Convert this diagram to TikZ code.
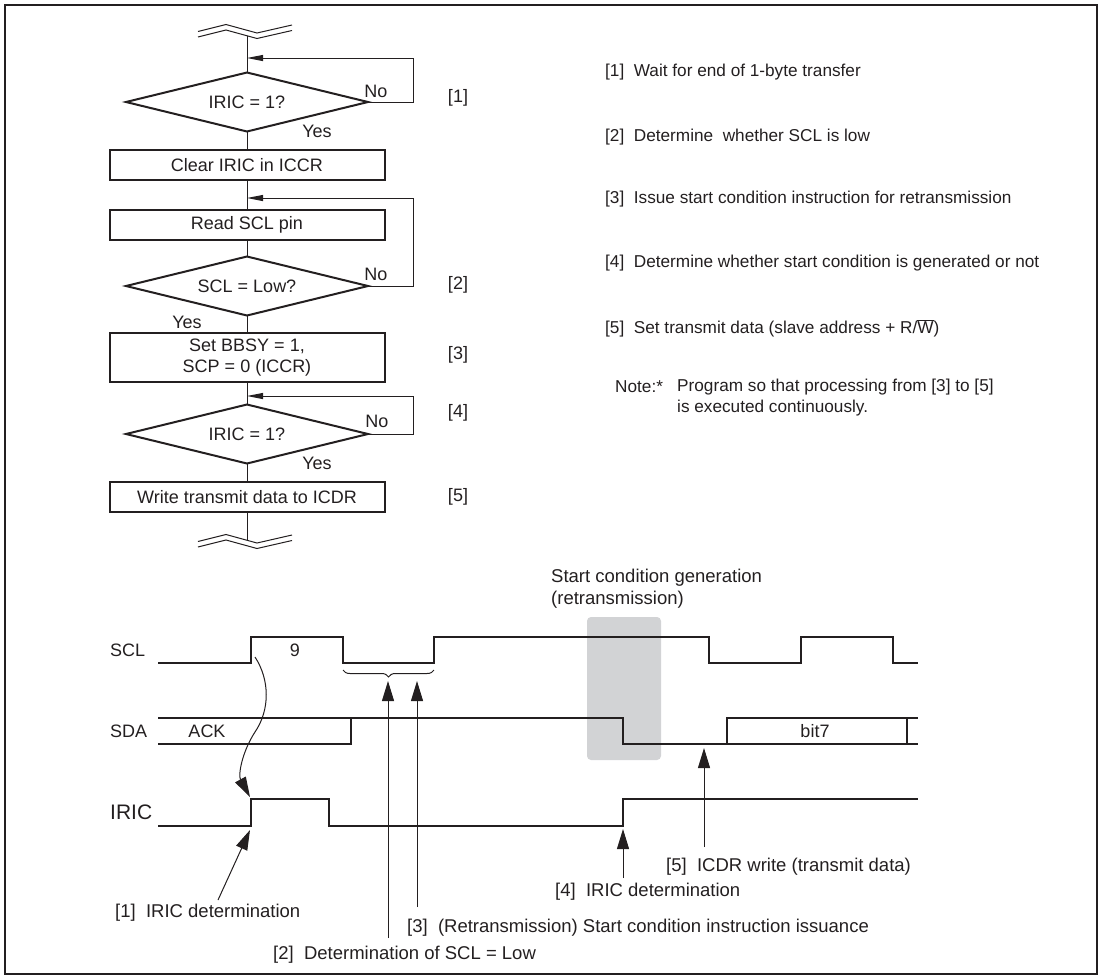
\documentclass[tikz,border=0pt]{standalone}
\usepackage{fontspec}
\setmainfont{Liberation Sans}
\usetikzlibrary{arrows.meta, positioning, shapes.geometric, decorations.pathreplacing, calc}
\definecolor{inkcol}{RGB}{35,31,32}
\definecolor{shadecol}{RGB}{210,211,213}

% broken-line mark of the flow chart
\newcommand{\flowcut}[1]{%
  \draw[line width=1pt, shift={(#1)}] (-49,-1.5) -- (-21,-8.5) -- (10,0) -- (45,-8);
  \draw[line width=1pt, shift={(#1)}] (-49,4) -- (-21,-3) -- (10,5.5) -- (45,-2.5);
}

\begin{document}
\begin{tikzpicture}[x=1pt, y=-1pt, inkcol, font=\fontsize{18}{21}\selectfont,
  decide/.style={draw, diamond, line width=2pt, inner sep=0pt, outer sep=0pt,
                 minimum width=242pt, minimum height=59pt, aspect=4},
  stepbox/.style={draw, rectangle, line width=2pt, inner sep=0pt, outer sep=0pt,
                  minimum width=275pt, minimum height=30pt, align=center},
  flow/.style={line width=1pt},
  back/.style={line width=1pt, -{Triangle[length=16pt,width=6pt]}},
  wave/.style={line width=2pt},
  pointer/.style={line width=1pt, -{Triangle[length=20pt,width=12pt]}},
  txt/.style={inner sep=0pt},
  notetxt/.style={inner sep=0pt, font=\fontsize{17.2}{21}\selectfont},
  chartlbl/.style={inner sep=0pt, font=\fontsize{18.5}{22}\selectfont}]
  \useasboundingbox (0,0) rectangle (1103,978);
  \draw[line width=2pt] (5,5) rectangle (1097,974);

  % flow chart
  \coordinate (topcut) at (247,33);
  \coordinate (topend) at (247,36);
  \coordinate (botcut) at (247,543);
  \coordinate (botend) at (247,540);
  \flowcut{topcut}
  \flowcut{botcut}

  \node[decide] (d1) at (247,102) {IRIC = 1?};
  \node[stepbox] (b1) at (247,165) {Clear IRIC in ICCR};
  \node[stepbox] (b2) at (247,225) {Read SCL pin};
  \node[decide] (d2) at (247,286) {SCL = Low?};
  \node[stepbox, minimum height=49pt] (b3) at (247,357.5) {Set BBSY = 1,\\SCP = 0 (ICCR)};
  \node[decide] (d3) at (247,434) {IRIC = 1?};
  \node[stepbox] (b4) at (247,497) {Write transmit data to ICDR};

  \draw[flow] (topend) -- (d1.north);
  \draw[flow] (d1.south) -- (b1.north);
  \draw[flow] (b1.south) -- (b2.north);
  \draw[flow] (b2.south) -- (d2.north);
  \draw[flow] (d2.south) -- (b3.north);
  \draw[flow] (b3.south) -- (d3.north);
  \draw[flow] (d3.south) -- (b4.north);
  \draw[flow] (b4.south) -- (botend);

  % loops back
  \coordinate (r1) at (413,58);
  \coordinate (r2) at (413,198);
  \coordinate (r3) at (413,396);
  \draw[back] (d1.east) -| (r1) -- (r1 -| d1.north);
  \draw[back] (d2.east) -| (r2) -- (r2 -| d1.north);
  \draw[back] (d3.east) -| (r3) -- (r3 -| d1.north);

  \node[txt] (no1) at ([shift={(8,-11)}]d1.east) {No};
  \node[txt] (no2) at ([shift={(8,-12)}]d2.east) {No};
  \node[txt] (no3) at ([shift={(9,-13)}]d3.east) {No};
  \node[txt] (yes1) at ([xshift=70]d1.south) {Yes};
  \node[txt] (yes2) at ([shift={(-60,7)}]d2.south) {Yes};
  \node[txt] (yes3) at ([xshift=70]d3.south) {Yes};

  \foreach \n/\yp in {1/98, 2/285, 3/355, 4/413, 5/497}
    \node[txt] (step\n) at (458,\yp) {[\n]};

  % notes
  \node[notetxt, anchor=west] (note1) at (605,72) {[1]~~Wait for end of 1-byte transfer};
  \node[notetxt, anchor=west] (note2) at (605,137) {[2]~~Determine~~whether SCL is low};
  \node[notetxt, anchor=west] (note3) at (605,199) {[3]~~Issue start condition instruction for retransmission};
  \node[notetxt, anchor=west] (note4) at (605,263) {[4]~~Determine whether start condition is generated or not};
  \node[notetxt, anchor=west] (note5) at (605,328) {[5]~~Set transmit data (slave address + R/$\overline{\mbox{W}}$)};
  \node[notetxt, anchor=west] (notehead) at (615,387) {Note:*};
  \node[notetxt, anchor=west, align=left] (notebody) at (677,397.5)
    {Program so that processing from [3] to [5]\\is executed continuously.};

  % timing chart
  \fill[shadecol, rounded corners=4pt] (587,617) rectangle (661,760);
  \node[chartlbl, anchor=west, align=left] (startcond) at (551,589)
    {Start condition generation\\(retransmission)};

  \node[txt, anchor=west] (sclname) at (110,650) {SCL};
  \node[txt, anchor=west] (sdaname) at (110,731) {SDA};
  \node[txt, anchor=west, font=\fontsize{21}{24}\selectfont] (iricname) at (110,812) {IRIC};

  \draw[wave] (158,663) -- (251,663) -- (251,637) -- (343,637) -- (343,663) -- (434,663)
    -- (434,637) -- (709,637) -- (709,663) -- (801,663) -- (801,637) -- (893,637)
    -- (893,663) -- (918,663);
  \draw[wave] (158,718) -- (623,718) -- (623,744) -- (727,744) -- (727,718) -- (918,718);
  \draw[wave] (158,744) -- (351,744) -- (351,718);
  \draw[wave] (727,744) -- (918,744);
  \draw[wave] (907,718) -- (907,744);
  \draw[wave] (158,826) -- (251,826) -- (251,799) -- (329,799) -- (329,826) -- (623,826)
    -- (623,799) -- (918,799);

  \node[txt] (nine) at (295,650) {9};
  \node[txt] (ack) at (207,731) {ACK};
  \node[txt] (bitseven) at (815,731) {bit7};

  \draw[line width=1pt, decorate, decoration={brace, mirror, amplitude=7pt}]
    (343,670) -- (434,670);

  % pointers
  \coordinate (sclrise) at (255,657);
  \coordinate (iricrise) at (250,797);
  \draw[pointer] (sclrise) .. controls (270,680) and (270,710) .. (255,732)
    .. controls (242,752) and (238,775) .. (iricrise);

  \coordinate (t1) at (218,900);
  \coordinate (h1) at (250,830);
  \coordinate (t2) at (388,938);
  \coordinate (h2) at (388,681);
  \coordinate (t3) at (417,907);
  \coordinate (h3) at (417,681);
  \coordinate (t4) at (623,878);
  \coordinate (h4) at (623,829);
  \coordinate (t5) at (704,847);
  \coordinate (h5) at (704,748);
  \foreach \i in {1,...,5}
    \draw[pointer] (t\i) -- (h\i);

  \node[chartlbl, anchor=west] (lab1) at (115,913) {[1]~~IRIC determination};
  \node[chartlbl, anchor=west] (lab2) at (273,955) {[2]~~Determination of SCL = Low};
  \node[chartlbl, anchor=west] (lab3) at (407,928) {[3]~~(Retransmission) Start condition instruction issuance};
  \node[chartlbl, anchor=west] (lab4) at (555,892) {[4]~~IRIC determination};
  \node[chartlbl, anchor=west] (lab5) at (666,867) {[5]~~ICDR write (transmit data)};
\end{tikzpicture}
\end{document}
